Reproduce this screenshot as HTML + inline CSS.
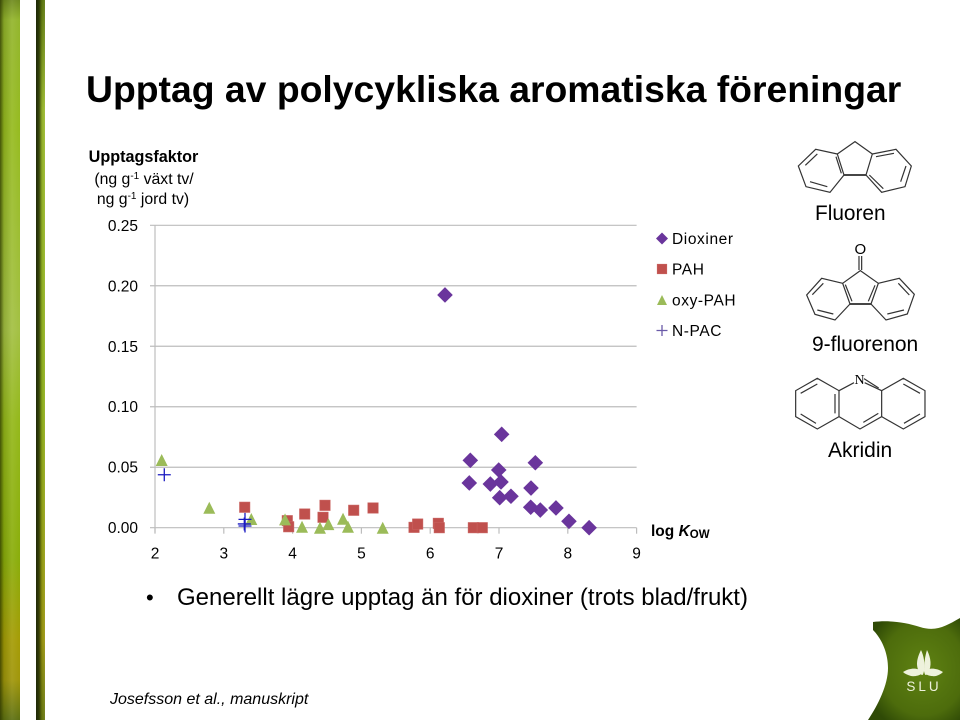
<!DOCTYPE html>
<html lang="sv">
<head>
<meta charset="utf-8">
<title>Upptag av polycykliska aromatiska föreningar</title>
<style>
html,body{margin:0;padding:0;background:#fff;}
#slide{position:relative;width:960px;height:720px;overflow:hidden;background:#fff;}
.strip{position:absolute;top:0;height:720px;}
#strip-a{left:0;width:20px;background:linear-gradient(90deg,rgba(40,50,0,.75) 0,rgba(40,50,0,.15) 4px,rgba(255,255,255,.08) 12px,rgba(255,255,255,0) 20px),linear-gradient(180deg,#6f8a1e 0,#93b52c 20px,#96bb1f 130px,#a3c043 330px,#94b81a 420px,#8aad0a 560px,#a59c05 640px,#a0960a 680px,#5d7012 720px);}
#strip-b{left:35.5px;width:9.5px;background:linear-gradient(90deg,rgba(25,35,5,.95) 0,rgba(30,40,5,.8) 3px,rgba(60,70,0,.15) 6px,rgba(255,255,255,.1) 10px),linear-gradient(180deg,#5f7a10 0,#a0c030 110px,#96b820 400px,#a09a10 640px,#6a7a10 720px);}
svg{position:absolute;left:0;top:0;}
text{font-family:"Liberation Sans",sans-serif;fill:#000;}
</style>
</head>
<body>
<div id="slide">
<div class="strip" id="strip-a"></div>
<div class="strip" id="strip-b"></div>

<svg id="art" width="960" height="720" viewBox="0 0 960 720">
<defs>
<radialGradient id="logoFill" cx="60%" cy="50%" r="65%">
<stop offset="0" stop-color="#5f8212"/><stop offset=".7" stop-color="#4d6c0c"/><stop offset="1" stop-color="#2f4a06"/>
</radialGradient>
</defs>

<text x="86" y="102" font-size="37.35" font-weight="bold">Upptag av polycykliska aromatiska föreningar</text>

<g id="chart"></g>

<g font-size="15.8" text-anchor="middle">
<text x="143.5" y="162" font-weight="bold" font-size="16.2">Upptagsfaktor</text>
<text x="144" y="184">(ng g<tspan font-size="10" dy="-5">-1</tspan><tspan dy="5"> växt tv/</tspan></text>
<text x="143" y="204">ng g<tspan font-size="10" dy="-5">-1</tspan><tspan dy="5"> jord tv)</tspan></text>
</g>

<text x="651" y="536" font-size="15.5" font-weight="bold">log <tspan font-style="italic">K</tspan><tspan font-size="11.5" dy="2">OW</tspan></text>

<g fill="none" stroke="#333" stroke-width="3.6" transform="translate(780 130) scale(.3333)">
<path d="M172 72L225 35L277 72L258 135L192 135Z"/>
<path d="M172 72L107 58L55 108L78 170L150 187L192 135"/>
<path d="M277 72L348 58L394 108L375 170L305 187L258 135"/>
<path d="M112 72L76 106M90 155L142 170M168 80L184 130M288 80L342 70M378 108L362 155M268 135L310 176"/>
<path d="M192 135H258" stroke-width="5"/>
</g>
<text x="815" y="220" font-size="20.8">Fluoren</text>

<g fill="none" stroke="#333" stroke-width="3.6" transform="translate(780 130) scale(.3333)">
<path d="M237 378V420M245 378V420"/>
<path d="M188 460L241 422L295 460L273 522L210 522Z"/>
<path d="M188 460L125 445L80 495L105 553L165 570L210 522"/>
<path d="M295 460L358 445L403 493L382 552L318 570L273 522"/>
<path d="M130 460L97 494M112 540L160 552M196 464L216 514M285 466L265 514M355 460L388 495M372 540L322 552"/>
<path d="M210 522H273" stroke-width="5"/>
</g>
<text x="860.3" y="254" font-size="15" text-anchor="middle">O</text>
<text x="812" y="351" font-size="21">9-fluorenon</text>

<g fill="none" stroke="#333" stroke-width="3.6" transform="translate(780 360) scale(.3333)">
<path d="M112 55L47 92V170L112 207L177 170V92Z"/>
<path d="M177 92L222 68M254 68L305 92V170L240 207L177 170"/>
<path d="M305 92L370 55L435 92V170L370 207L305 170"/>
<path d="M112 72L62 100M62 162L108 190M165 102V160M250 187L295 160M252 56L296 84M370 72L420 100M420 162L372 190"/>
</g>
<text x="859.5" y="384" font-size="14" text-anchor="middle" style="font-family:'Liberation Serif',serif">N</text>
<text x="828" y="457" font-size="21">Akridin</text>

<text x="146" y="605" font-size="22">•</text>
<text x="177" y="605" font-size="24">Generellt lägre upptag än för dioxiner (trots blad/frukt)</text>
<text x="110" y="704" font-size="16" font-style="italic">Josefsson et al., manuskript</text>

<g>
<path d="M873 622C888 620 905 622 920 627C936 632 946 626 960 618V720H868C878 705 888 685 888 668C888 652 881 638 873 630Z" fill="url(#logoFill)"/>
<g fill="#eef2dc">
<path d="M921 650C917 658 915 666 920 673C922 676 923 676 924 671C925 664 924 656 921 650Z"/>
<path d="M927 650C931 658 932 666 928 673C926 676 925 676 924 671C924 664 925 656 927 650Z"/>
<path d="M903 672C911 667 919 668 922 672C924 674 916 677 911 676C908 675 905 674 903 672Z"/>
<path d="M943 672C935 667 927 668 925 672C923 674 931 677 936 676C939 675 941 674 943 672Z"/>
</g>
<text x="924" y="691" font-size="13.5" text-anchor="middle" letter-spacing="3" style="fill:#eef2dc">SLU</text>
</g>
</svg>
</div>

<script>
const xTicks = [2, 3, 4, 5, 6, 7, 8, 9];
const yTicks = [0, 0.05, 0.10, 0.15, 0.20, 0.25];

const dioxinerX = [6.215, 6.583, 7.528, 7.039, 6.996, 6.568, 6.874, 7.029, 7.010, 7.174, 7.465, 7.461, 7.600, 7.828, 8.017, 8.310];
const dioxinerY = [0.1924, 0.0557, 0.0537, 0.0772, 0.0477, 0.0370, 0.0361, 0.0378, 0.0248, 0.0260, 0.0328, 0.0169, 0.0146, 0.0163, 0.0053, 0];

const pahX = [3.304, 3.923, 3.943, 4.176, 4.471, 4.442, 4.888, 5.169, 5.765, 5.818, 6.118, 6.132, 6.627, 6.757];
const pahY = [0.0169, 0.0058, 0.0008, 0.0113, 0.0185, 0.0086, 0.0144, 0.0163, 0.0003, 0.0030, 0.0036, 0, 0, 0];

const oxyPahX = [2.097, 2.789, 3.400, 3.890, 4.137, 4.398, 4.520, 4.733, 4.805, 5.310];
const oxyPahY = [0.0560, 0.0165, 0.0072, 0.0069, 0.0008, 0, 0.0030, 0.0074, 0.0008, 0];

const nPacX = [2.135, 3.308, 3.298, 3.308];
const nPacY = [0.0438, 0.0069, 0.0031, 0.0014];

const legendLabels = ["Dioxiner", "PAH", "oxy-PAH", "N-PAC"];

const NS = "http://www.w3.org/2000/svg";
const chart = document.getElementById("chart");
const plotLeft = 155, plotRight = 636.6, plotBottom = 527.7, plotTop = 225.3;
const xScale = function (v) { return plotLeft + (v - 2) * (plotRight - plotLeft) / 7; };
const yScale = function (v) { return plotBottom - v * (plotBottom - plotTop) / 0.25; };

function make(tag, attrs, parent) {
  const el = document.createElementNS(NS, tag);
  for (const k in attrs) el.setAttribute(k, attrs[k]);
  (parent || chart).appendChild(el);
  return el;
}

const axisColor = "#bdbdbd";

yTicks.forEach(function (t) {
  const line = make("line", { x1: 150, x2: plotRight, y1: yScale(t), y2: yScale(t), stroke: axisColor, "stroke-width": 1.2 });
  
  
  const label = make("text", { x: 138, y: yScale(t) + 5.5, "font-size": 15.5, "text-anchor": "end" });
  label.textContent = t.toFixed(2);
  
  
});

const yAxisLine = make("line", { x1: plotLeft, x2: plotLeft, y1: plotTop, y2: plotBottom + 5, stroke: axisColor, "stroke-width": 1.2 });



xTicks.forEach(function (t) {
  const tick = make("line", { x1: xScale(t), x2: xScale(t), y1: plotBottom, y2: plotBottom + 6, stroke: axisColor, "stroke-width": 1.2 });
  
  
  const label = make("text", { x: xScale(t), y: 558.5, "font-size": 15.5, "text-anchor": "middle" });
  label.textContent = String(t);
  
  
});

function drawDiamond(px, py, r, parent) {
  return make("path", { d: "M" + px + " " + (py - r) + "L" + (px + r) + " " + py + "L" + px + " " + (py + r) + "L" + (px - r) + " " + py + "Z", fill: "#6a359c" }, parent);
}
function drawSquare(px, py, r, parent) {
  return make("rect", { x: px - r, y: py - r, width: 2 * r, height: 2 * r, fill: "#c0504d", stroke: "#c9625f", "stroke-width": 0.6 }, parent);
}
function drawTriangle(px, py, r, parent) {
  return make("path", { d: "M" + px + " " + (py - r) + "L" + (px + r) + " " + (py + r) + "L" + (px - r) + " " + (py + r) + "Z", fill: "#9bbb59" }, parent);
}
function drawPlus(px, py, r, color, parent) {
  return make("path", { d: "M" + (px - r) + " " + py + "H" + (px + r) + "M" + px + " " + (py - r) + "V" + (py + r), stroke: color, "stroke-width": 1.3, fill: "none" }, parent);
}

pahX.forEach(function (v, i) {
  const m = drawSquare(xScale(v), yScale(pahY[i]), 5.2);
  
  
});
dioxinerX.forEach(function (v, i) {
  const m = drawDiamond(xScale(v), yScale(dioxinerY[i]), 7.8);
  
  
});
oxyPahX.forEach(function (v, i) {
  const m = drawTriangle(xScale(v), yScale(oxyPahY[i]), 6);
  
  
});
nPacX.forEach(function (v, i) {
  const m = drawPlus(xScale(v), yScale(nPacY[i]), 6.5, "#1a1ac0");
  
  
});

const legendRows = [238.5, 269, 300, 330.5];
legendLabels.forEach(function (name, i) {
  const y = legendRows[i];
  const group = make("g", {});
  
  
  if (i === 0) drawDiamond(662, y, 6, group);
  if (i === 1) drawSquare(662, y, 4.8, group);
  if (i === 2) drawTriangle(662, y, 5, group);
  if (i === 3) drawPlus(662, y, 5.5, "#6a5aa8", group);
  const label = make("text", { x: 672, y: y + 5.5, "font-size": 15.5, "letter-spacing": 0.6 }, group);
  label.textContent = name;
  
  
});
</script>
</body>
</html>
